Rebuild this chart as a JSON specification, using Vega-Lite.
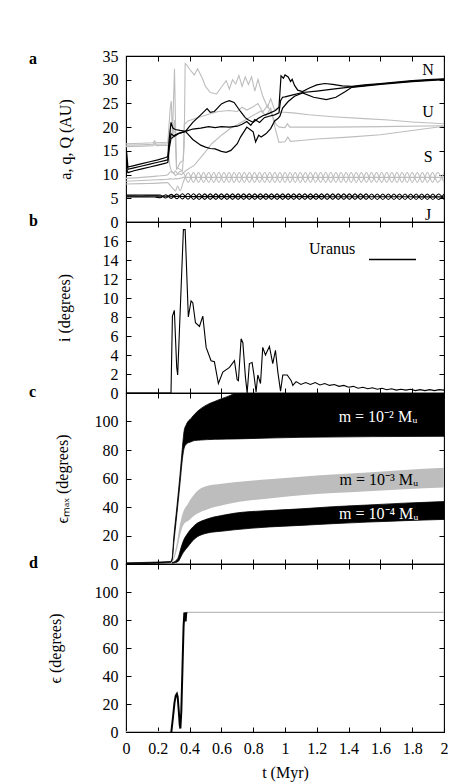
{
"$schema": "https://vega.github.io/schema/vega-lite/v6.json",
"autosize": {"type": "pad"},
"padding": {"left": 28, "top": 47, "right": 2, "bottom": 2},
"config": {
  "font": "Liberation Serif, serif",
  "view": {"stroke": "black", "strokeWidth": 1.1},
  "style": {"guide-label": {"font": "Liberation Serif, serif", "fontSize": 16, "fill": "black"}, "guide-title": {"font": "Liberation Serif, serif", "fontSize": 16, "fontWeight": "normal", "fill": "black"}},
  "axis": {"grid": false, "domain": false, "tickColor": "black", "tickSize": -5, "tickWidth": 1, "labelFontSize": 16, "labelColor": "black", "labelFont": "Liberation Serif, serif", "titleFont": "Liberation Serif, serif", "titleFontSize": 16, "titleFontWeight": "normal", "titleColor": "black", "labelPadding": 13, "labelFlush": false, "labelOverlap": false, "labelBound": false, "titlePadding": 30},
  "title": {"font": "Liberation Serif, serif", "fontSize": 16, "fontWeight": "bold", "color": "black", "anchor": "start", "frame": "group", "orient": "top", "baseline": "alphabetic", "dx": -97, "offset": -11}
},
"datasets": {
  "UN": [
    {"pl":"N","k":"Q","t":0,"v":10.4},{"pl":"N","k":"Q","t":0.004,"v":14.8},{"pl":"N","k":"Q","t":0.012,"v":11.6},{"pl":"N","k":"Q","t":0.05,"v":11.9},{"pl":"N","k":"Q","t":0.1,"v":12.3},{"pl":"N","k":"Q","t":0.15,"v":12.7},{"pl":"N","k":"Q","t":0.2,"v":13.1},{"pl":"N","k":"Q","t":0.25,"v":13.6},{"pl":"N","k":"Q","t":0.263,"v":13.8},{"pl":"N","k":"Q","t":0.272,"v":17.5},{"pl":"N","k":"Q","t":0.283,"v":21.0},{"pl":"N","k":"Q","t":0.295,"v":19.8},{"pl":"N","k":"Q","t":0.31,"v":19.5},{"pl":"N","k":"Q","t":0.34,"v":19.3},{"pl":"N","k":"Q","t":0.374,"v":19.1},{"pl":"N","k":"Q","t":0.42,"v":21.0},{"pl":"N","k":"Q","t":0.47,"v":22.6},{"pl":"N","k":"Q","t":0.51,"v":23.9},{"pl":"N","k":"Q","t":0.53,"v":23.1},{"pl":"N","k":"Q","t":0.556,"v":23.3},{"pl":"N","k":"Q","t":0.6,"v":24.9},{"pl":"N","k":"Q","t":0.625,"v":25.3},{"pl":"N","k":"Q","t":0.65,"v":25.6},{"pl":"N","k":"Q","t":0.68,"v":25.2},{"pl":"N","k":"Q","t":0.72,"v":23.3},{"pl":"N","k":"Q","t":0.75,"v":22.0},{"pl":"N","k":"Q","t":0.77,"v":21.5},{"pl":"N","k":"Q","t":0.8,"v":21.0},{"pl":"N","k":"Q","t":0.83,"v":21.8},{"pl":"N","k":"Q","t":0.86,"v":22.4},{"pl":"N","k":"Q","t":0.9,"v":22.9},{"pl":"N","k":"Q","t":0.94,"v":23.5},{"pl":"N","k":"Q","t":0.962,"v":24.2},{"pl":"N","k":"Q","t":0.975,"v":30.8},{"pl":"N","k":"Q","t":0.99,"v":30.3},{"pl":"N","k":"Q","t":1.0,"v":31.0},{"pl":"N","k":"Q","t":1.02,"v":30.6},{"pl":"N","k":"Q","t":1.035,"v":29.6},{"pl":"N","k":"Q","t":1.045,"v":30.1},{"pl":"N","k":"Q","t":1.06,"v":28.8},{"pl":"N","k":"Q","t":1.08,"v":27.8},{"pl":"N","k":"Q","t":1.11,"v":27.5},{"pl":"N","k":"Q","t":1.15,"v":28.2},{"pl":"N","k":"Q","t":1.2,"v":28.9},{"pl":"N","k":"Q","t":1.25,"v":29.2},{"pl":"N","k":"Q","t":1.3,"v":29.0},{"pl":"N","k":"Q","t":1.36,"v":28.7},{"pl":"N","k":"Q","t":1.42,"v":28.6},{"pl":"N","k":"Q","t":1.5,"v":28.9},{"pl":"N","k":"Q","t":1.6,"v":29.2},{"pl":"N","k":"Q","t":1.7,"v":29.5},{"pl":"N","k":"Q","t":1.8,"v":29.8},{"pl":"N","k":"Q","t":1.9,"v":30.0},{"pl":"N","k":"Q","t":2.0,"v":30.2},
    {"pl":"N","k":"a","t":0,"v":10.0},{"pl":"N","k":"a","t":0.004,"v":13.2},{"pl":"N","k":"a","t":0.012,"v":11.1},{"pl":"N","k":"a","t":0.05,"v":11.4},{"pl":"N","k":"a","t":0.1,"v":11.8},{"pl":"N","k":"a","t":0.15,"v":12.2},{"pl":"N","k":"a","t":0.2,"v":12.6},{"pl":"N","k":"a","t":0.25,"v":13.0},{"pl":"N","k":"a","t":0.263,"v":13.1},{"pl":"N","k":"a","t":0.272,"v":16.5},{"pl":"N","k":"a","t":0.283,"v":18.6},{"pl":"N","k":"a","t":0.3,"v":18.2},{"pl":"N","k":"a","t":0.33,"v":18.7},{"pl":"N","k":"a","t":0.374,"v":19.1},{"pl":"N","k":"a","t":0.42,"v":19.6},{"pl":"N","k":"a","t":0.47,"v":19.8},{"pl":"N","k":"a","t":0.52,"v":20.1},{"pl":"N","k":"a","t":0.56,"v":19.9},{"pl":"N","k":"a","t":0.6,"v":20.1},{"pl":"N","k":"a","t":0.65,"v":20.0},{"pl":"N","k":"a","t":0.7,"v":20.2},{"pl":"N","k":"a","t":0.73,"v":20.6},{"pl":"N","k":"a","t":0.76,"v":21.2},{"pl":"N","k":"a","t":0.785,"v":20.4},{"pl":"N","k":"a","t":0.81,"v":21.6},{"pl":"N","k":"a","t":0.84,"v":21.0},{"pl":"N","k":"a","t":0.87,"v":22.0},{"pl":"N","k":"a","t":0.9,"v":22.3},{"pl":"N","k":"a","t":0.935,"v":22.6},{"pl":"N","k":"a","t":0.962,"v":23.0},{"pl":"N","k":"a","t":0.972,"v":25.6},{"pl":"N","k":"a","t":0.985,"v":26.3},{"pl":"N","k":"a","t":1.0,"v":26.4},{"pl":"N","k":"a","t":1.05,"v":26.8},{"pl":"N","k":"a","t":1.11,"v":27.3},{"pl":"N","k":"a","t":1.2,"v":27.6},{"pl":"N","k":"a","t":1.3,"v":28.0},{"pl":"N","k":"a","t":1.42,"v":28.5},{"pl":"N","k":"a","t":1.6,"v":29.1},{"pl":"N","k":"a","t":1.8,"v":29.7},{"pl":"N","k":"a","t":2.0,"v":30.1},
    {"pl":"N","k":"q","t":0,"v":9.6},{"pl":"N","k":"q","t":0.004,"v":11.2},{"pl":"N","k":"q","t":0.012,"v":10.4},{"pl":"N","k":"q","t":0.05,"v":10.8},{"pl":"N","k":"q","t":0.1,"v":11.2},{"pl":"N","k":"q","t":0.15,"v":11.6},{"pl":"N","k":"q","t":0.2,"v":12.0},{"pl":"N","k":"q","t":0.25,"v":12.4},{"pl":"N","k":"q","t":0.263,"v":12.6},{"pl":"N","k":"q","t":0.272,"v":15.5},{"pl":"N","k":"q","t":0.283,"v":17.6},{"pl":"N","k":"q","t":0.3,"v":18.0},{"pl":"N","k":"q","t":0.33,"v":18.6},{"pl":"N","k":"q","t":0.374,"v":19.1},{"pl":"N","k":"q","t":0.42,"v":17.4},{"pl":"N","k":"q","t":0.47,"v":16.2},{"pl":"N","k":"q","t":0.5,"v":15.8},{"pl":"N","k":"q","t":0.53,"v":15.5},{"pl":"N","k":"q","t":0.56,"v":15.4},{"pl":"N","k":"q","t":0.6,"v":14.9},{"pl":"N","k":"q","t":0.63,"v":14.7},{"pl":"N","k":"q","t":0.66,"v":15.1},{"pl":"N","k":"q","t":0.7,"v":16.5},{"pl":"N","k":"q","t":0.72,"v":17.9},{"pl":"N","k":"q","t":0.76,"v":20.0},{"pl":"N","k":"q","t":0.78,"v":19.5},{"pl":"N","k":"q","t":0.8,"v":19.0},{"pl":"N","k":"q","t":0.815,"v":16.9},{"pl":"N","k":"q","t":0.835,"v":18.3},{"pl":"N","k":"q","t":0.85,"v":17.9},{"pl":"N","k":"q","t":0.88,"v":18.6},{"pl":"N","k":"q","t":0.91,"v":19.7},{"pl":"N","k":"q","t":0.935,"v":21.3},{"pl":"N","k":"q","t":0.955,"v":21.8},{"pl":"N","k":"q","t":0.968,"v":22.3},{"pl":"N","k":"q","t":0.985,"v":24.0},{"pl":"N","k":"q","t":1.02,"v":25.4},{"pl":"N","k":"q","t":1.06,"v":26.5},{"pl":"N","k":"q","t":1.11,"v":27.2},{"pl":"N","k":"q","t":1.18,"v":26.3},{"pl":"N","k":"q","t":1.26,"v":25.8},{"pl":"N","k":"q","t":1.32,"v":26.3},{"pl":"N","k":"q","t":1.38,"v":27.5},{"pl":"N","k":"q","t":1.42,"v":28.4},{"pl":"N","k":"q","t":1.6,"v":29.0},{"pl":"N","k":"q","t":1.8,"v":29.6},{"pl":"N","k":"q","t":2.0,"v":30.0},
    {"pl":"U","k":"Q","t":0,"v":16.5},{"pl":"U","k":"Q","t":0.1,"v":16.6},{"pl":"U","k":"Q","t":0.17,"v":16.7},{"pl":"U","k":"Q","t":0.18,"v":17.1},{"pl":"U","k":"Q","t":0.19,"v":16.7},{"pl":"U","k":"Q","t":0.263,"v":16.8},{"pl":"U","k":"Q","t":0.278,"v":24.0},{"pl":"U","k":"Q","t":0.285,"v":25.5},{"pl":"U","k":"Q","t":0.292,"v":18.0},{"pl":"U","k":"Q","t":0.305,"v":32.3},{"pl":"U","k":"Q","t":0.312,"v":20.0},{"pl":"U","k":"Q","t":0.318,"v":11.5},{"pl":"U","k":"Q","t":0.335,"v":11.2},{"pl":"U","k":"Q","t":0.355,"v":10.8},{"pl":"U","k":"Q","t":0.366,"v":16.0},{"pl":"U","k":"Q","t":0.372,"v":33.4},{"pl":"U","k":"Q","t":0.38,"v":33.2},{"pl":"U","k":"Q","t":0.4,"v":32.2},{"pl":"U","k":"Q","t":0.43,"v":31.0},{"pl":"U","k":"Q","t":0.45,"v":32.3},{"pl":"U","k":"Q","t":0.48,"v":30.3},{"pl":"U","k":"Q","t":0.5,"v":28.6},{"pl":"U","k":"Q","t":0.53,"v":27.3},{"pl":"U","k":"Q","t":0.57,"v":27.0},{"pl":"U","k":"Q","t":0.6,"v":28.4},{"pl":"U","k":"Q","t":0.63,"v":29.8},{"pl":"U","k":"Q","t":0.65,"v":28.0},{"pl":"U","k":"Q","t":0.67,"v":30.0},{"pl":"U","k":"Q","t":0.69,"v":29.1},{"pl":"U","k":"Q","t":0.71,"v":30.9},{"pl":"U","k":"Q","t":0.73,"v":28.6},{"pl":"U","k":"Q","t":0.75,"v":30.6},{"pl":"U","k":"Q","t":0.77,"v":29.0},{"pl":"U","k":"Q","t":0.79,"v":30.6},{"pl":"U","k":"Q","t":0.81,"v":27.6},{"pl":"U","k":"Q","t":0.83,"v":30.1},{"pl":"U","k":"Q","t":0.86,"v":26.5},{"pl":"U","k":"Q","t":0.89,"v":24.2},{"pl":"U","k":"Q","t":0.91,"v":26.0},{"pl":"U","k":"Q","t":0.935,"v":23.6},{"pl":"U","k":"Q","t":0.955,"v":24.0},{"pl":"U","k":"Q","t":0.97,"v":23.2},{"pl":"U","k":"Q","t":1.05,"v":23.0},{"pl":"U","k":"Q","t":1.15,"v":22.6},{"pl":"U","k":"Q","t":1.3,"v":22.2},{"pl":"U","k":"Q","t":1.5,"v":21.8},{"pl":"U","k":"Q","t":1.65,"v":21.5},{"pl":"U","k":"Q","t":1.8,"v":21.1},{"pl":"U","k":"Q","t":2.0,"v":20.7},
    {"pl":"U","k":"a","t":0,"v":16.2},{"pl":"U","k":"a","t":0.1,"v":16.3},{"pl":"U","k":"a","t":0.17,"v":16.4},{"pl":"U","k":"a","t":0.18,"v":16.7},{"pl":"U","k":"a","t":0.19,"v":16.4},{"pl":"U","k":"a","t":0.263,"v":16.5},{"pl":"U","k":"a","t":0.278,"v":19.5},{"pl":"U","k":"a","t":0.292,"v":17.5},{"pl":"U","k":"a","t":0.305,"v":21.5},{"pl":"U","k":"a","t":0.318,"v":11.0},{"pl":"U","k":"a","t":0.34,"v":12.5},{"pl":"U","k":"a","t":0.36,"v":13.0},{"pl":"U","k":"a","t":0.366,"v":20.5},{"pl":"U","k":"a","t":0.39,"v":21.3},{"pl":"U","k":"a","t":0.45,"v":22.0},{"pl":"U","k":"a","t":0.52,"v":22.7},{"pl":"U","k":"a","t":0.58,"v":23.3},{"pl":"U","k":"a","t":0.65,"v":23.5},{"pl":"U","k":"a","t":0.7,"v":23.3},{"pl":"U","k":"a","t":0.73,"v":24.2},{"pl":"U","k":"a","t":0.76,"v":23.6},{"pl":"U","k":"a","t":0.8,"v":24.3},{"pl":"U","k":"a","t":0.83,"v":25.0},{"pl":"U","k":"a","t":0.86,"v":23.2},{"pl":"U","k":"a","t":0.89,"v":24.6},{"pl":"U","k":"a","t":0.92,"v":22.5},{"pl":"U","k":"a","t":0.945,"v":20.5},{"pl":"U","k":"a","t":0.965,"v":20.0},{"pl":"U","k":"a","t":1.0,"v":19.9},{"pl":"U","k":"a","t":1.015,"v":20.7},{"pl":"U","k":"a","t":1.03,"v":20.0},{"pl":"U","k":"a","t":1.3,"v":20.0},{"pl":"U","k":"a","t":1.6,"v":20.1},{"pl":"U","k":"a","t":2.0,"v":20.3},
    {"pl":"U","k":"q","t":0,"v":15.9},{"pl":"U","k":"q","t":0.1,"v":16.0},{"pl":"U","k":"q","t":0.17,"v":16.1},{"pl":"U","k":"q","t":0.18,"v":16.4},{"pl":"U","k":"q","t":0.19,"v":16.1},{"pl":"U","k":"q","t":0.263,"v":16.2},{"pl":"U","k":"q","t":0.275,"v":12.0},{"pl":"U","k":"q","t":0.285,"v":10.8},{"pl":"U","k":"q","t":0.3,"v":10.3},{"pl":"U","k":"q","t":0.31,"v":9.8},{"pl":"U","k":"q","t":0.33,"v":10.2},{"pl":"U","k":"q","t":0.35,"v":10.0},{"pl":"U","k":"q","t":0.366,"v":10.5},{"pl":"U","k":"q","t":0.38,"v":10.9},{"pl":"U","k":"q","t":0.43,"v":12.0},{"pl":"U","k":"q","t":0.48,"v":14.0},{"pl":"U","k":"q","t":0.54,"v":16.5},{"pl":"U","k":"q","t":0.6,"v":18.3},{"pl":"U","k":"q","t":0.66,"v":19.8},{"pl":"U","k":"q","t":0.7,"v":20.5},{"pl":"U","k":"q","t":0.75,"v":21.5},{"pl":"U","k":"q","t":0.8,"v":22.5},{"pl":"U","k":"q","t":0.85,"v":23.4},{"pl":"U","k":"q","t":0.88,"v":22.4},{"pl":"U","k":"q","t":0.91,"v":24.0},{"pl":"U","k":"q","t":0.94,"v":19.5},{"pl":"U","k":"q","t":0.962,"v":16.8},{"pl":"U","k":"q","t":1.0,"v":16.9},{"pl":"U","k":"q","t":1.018,"v":17.9},{"pl":"U","k":"q","t":1.035,"v":17.0},{"pl":"U","k":"q","t":1.1,"v":17.2},{"pl":"U","k":"q","t":1.2,"v":17.5},{"pl":"U","k":"q","t":1.4,"v":17.9},{"pl":"U","k":"q","t":1.6,"v":18.4},{"pl":"U","k":"q","t":1.8,"v":19.3},{"pl":"U","k":"q","t":2.0,"v":20.2}
  ],
  "J": [
    {"t":0,"hi":5.7,"lo":5.3,"a":5.5},{"t":0.1,"hi":5.68,"lo":5.3,"a":5.49},{"t":0.18,"hi":5.66,"lo":5.28,"a":5.47},
    {"t":0.215,"hi":5.68,"lo":5.12,"a":5.45},{"t":0.25,"hi":5.05,"lo":5.75,"a":5.44},{"t":0.285,"hi":5.82,"lo":4.98,"a":5.42},{"t":0.32,"hi":4.9,"lo":5.9,"a":5.4},{"t":0.355,"hi":5.95,"lo":4.85,"a":5.39},{"t":0.39,"hi":4.8,"lo":6.0,"a":5.38},{"t":0.425,"hi":5.95,"lo":4.75,"a":5.36},{"t":0.46,"hi":4.75,"lo":5.95,"a":5.35},
    {"t":0.495,"hi":5.93,"lo":4.77,"a":5.35},{"t":0.53,"hi":4.77,"lo":5.93,"a":5.35},{"t":0.565,"hi":5.93,"lo":4.77,"a":5.35},{"t":0.6,"hi":4.77,"lo":5.93,"a":5.35},{"t":0.635,"hi":5.93,"lo":4.77,"a":5.35},{"t":0.67,"hi":4.77,"lo":5.93,"a":5.35},{"t":0.705,"hi":5.93,"lo":4.77,"a":5.35},{"t":0.74,"hi":4.77,"lo":5.93,"a":5.35},{"t":0.775,"hi":5.93,"lo":4.77,"a":5.35},{"t":0.81,"hi":4.77,"lo":5.93,"a":5.35},{"t":0.845,"hi":5.93,"lo":4.77,"a":5.35},{"t":0.88,"hi":4.77,"lo":5.93,"a":5.35},{"t":0.915,"hi":5.93,"lo":4.77,"a":5.35},{"t":0.95,"hi":4.77,"lo":5.93,"a":5.35},{"t":0.985,"hi":5.93,"lo":4.77,"a":5.35},{"t":1.02,"hi":4.77,"lo":5.93,"a":5.35},{"t":1.055,"hi":5.93,"lo":4.77,"a":5.34},{"t":1.09,"hi":4.77,"lo":5.93,"a":5.34},{"t":1.125,"hi":5.93,"lo":4.77,"a":5.34},{"t":1.16,"hi":4.77,"lo":5.93,"a":5.34},{"t":1.195,"hi":5.92,"lo":4.76,"a":5.34},{"t":1.23,"hi":4.76,"lo":5.92,"a":5.34},{"t":1.265,"hi":5.92,"lo":4.76,"a":5.33},{"t":1.3,"hi":4.76,"lo":5.92,"a":5.33},{"t":1.335,"hi":5.92,"lo":4.76,"a":5.33},{"t":1.37,"hi":4.76,"lo":5.92,"a":5.33},{"t":1.405,"hi":5.92,"lo":4.76,"a":5.33},{"t":1.44,"hi":4.76,"lo":5.92,"a":5.33},{"t":1.475,"hi":5.92,"lo":4.76,"a":5.32},{"t":1.51,"hi":4.76,"lo":5.92,"a":5.32},{"t":1.545,"hi":5.91,"lo":4.75,"a":5.32},{"t":1.58,"hi":4.75,"lo":5.91,"a":5.32},{"t":1.615,"hi":5.91,"lo":4.75,"a":5.32},{"t":1.65,"hi":4.75,"lo":5.91,"a":5.31},{"t":1.685,"hi":5.91,"lo":4.75,"a":5.31},{"t":1.72,"hi":4.75,"lo":5.91,"a":5.31},{"t":1.755,"hi":5.9,"lo":4.74,"a":5.31},{"t":1.79,"hi":4.74,"lo":5.9,"a":5.31},{"t":1.825,"hi":5.9,"lo":4.74,"a":5.3},{"t":1.86,"hi":4.74,"lo":5.9,"a":5.3},{"t":1.895,"hi":5.9,"lo":4.74,"a":5.3},{"t":1.93,"hi":4.74,"lo":5.9,"a":5.3},{"t":1.965,"hi":5.9,"lo":4.74,"a":5.3},{"t":2.0,"hi":4.74,"lo":5.9,"a":5.3}
  ],
  "S": [
    {"t":0,"hi":9.2,"lo":8.0,"a":8.6},{"t":0.1,"hi":9.4,"lo":8.1,"a":8.75},{"t":0.2,"hi":9.7,"lo":8.2,"a":8.9},{"t":0.26,"hi":9.9,"lo":8.3,"a":9.0},{"t":0.28,"hi":10.6,"lo":7.6,"a":9.1},{"t":0.3,"hi":10.3,"lo":6.9,"a":9.0},{"t":0.31,"hi":10.8,"lo":6.5,"a":9.2},{"t":0.325,"hi":10.2,"lo":7.6,"a":9.1},{"t":0.34,"hi":10.7,"lo":6.6,"a":9.2},
    {"t":0.36,"hi":10.4,"lo":8.4,"a":9.4},{"t":0.392,"hi":8.35,"lo":10.45,"a":9.4},{"t":0.424,"hi":10.45,"lo":8.35,"a":9.4},{"t":0.456,"hi":8.35,"lo":10.45,"a":9.4},{"t":0.488,"hi":10.45,"lo":8.35,"a":9.4},{"t":0.52,"hi":8.35,"lo":10.45,"a":9.4},{"t":0.552,"hi":10.45,"lo":8.35,"a":9.4},{"t":0.584,"hi":8.35,"lo":10.45,"a":9.4},{"t":0.616,"hi":10.45,"lo":8.35,"a":9.4},{"t":0.648,"hi":8.35,"lo":10.45,"a":9.4},{"t":0.68,"hi":10.45,"lo":8.35,"a":9.4},{"t":0.712,"hi":8.35,"lo":10.45,"a":9.4},{"t":0.744,"hi":10.45,"lo":8.35,"a":9.4},{"t":0.776,"hi":8.35,"lo":10.45,"a":9.4},{"t":0.808,"hi":10.45,"lo":8.35,"a":9.4},{"t":0.84,"hi":8.35,"lo":10.45,"a":9.4},{"t":0.872,"hi":10.45,"lo":8.35,"a":9.4},{"t":0.904,"hi":8.35,"lo":10.45,"a":9.4},{"t":0.936,"hi":10.45,"lo":8.35,"a":9.4},{"t":0.968,"hi":8.35,"lo":10.45,"a":9.4},{"t":1.0,"hi":10.45,"lo":8.35,"a":9.4},{"t":1.032,"hi":8.35,"lo":10.45,"a":9.4},{"t":1.064,"hi":10.45,"lo":8.35,"a":9.4},{"t":1.096,"hi":8.35,"lo":10.45,"a":9.4},{"t":1.128,"hi":10.45,"lo":8.35,"a":9.4},{"t":1.16,"hi":8.35,"lo":10.45,"a":9.4},{"t":1.192,"hi":10.45,"lo":8.35,"a":9.4},{"t":1.224,"hi":8.35,"lo":10.45,"a":9.4},{"t":1.256,"hi":10.45,"lo":8.35,"a":9.4},{"t":1.288,"hi":8.35,"lo":10.45,"a":9.4},{"t":1.32,"hi":10.45,"lo":8.35,"a":9.4},{"t":1.352,"hi":8.35,"lo":10.45,"a":9.4},{"t":1.384,"hi":10.45,"lo":8.35,"a":9.4},{"t":1.416,"hi":8.35,"lo":10.45,"a":9.4},{"t":1.448,"hi":10.45,"lo":8.35,"a":9.4},{"t":1.48,"hi":8.35,"lo":10.45,"a":9.4},{"t":1.512,"hi":10.45,"lo":8.35,"a":9.4},{"t":1.544,"hi":8.35,"lo":10.45,"a":9.4},{"t":1.576,"hi":10.45,"lo":8.35,"a":9.4},{"t":1.608,"hi":8.35,"lo":10.45,"a":9.4},{"t":1.64,"hi":10.45,"lo":8.35,"a":9.4},{"t":1.672,"hi":8.35,"lo":10.45,"a":9.4},{"t":1.704,"hi":10.45,"lo":8.35,"a":9.4},{"t":1.736,"hi":8.35,"lo":10.45,"a":9.4},{"t":1.768,"hi":10.45,"lo":8.35,"a":9.4},{"t":1.8,"hi":8.35,"lo":10.45,"a":9.4},{"t":1.832,"hi":10.45,"lo":8.35,"a":9.4},{"t":1.864,"hi":8.35,"lo":10.45,"a":9.4},{"t":1.896,"hi":10.45,"lo":8.35,"a":9.4},{"t":1.928,"hi":8.35,"lo":10.45,"a":9.4},{"t":1.96,"hi":10.45,"lo":8.35,"a":9.4},{"t":2.0,"hi":8.4,"lo":10.4,"a":9.4}
  ],
  "labA": [{"t":1.9,"v":32.0,"txt":"N"},{"t":1.9,"v":23.1,"txt":"U"},{"t":1.9,"v":13.6,"txt":"S"},{"t":1.9,"v":1.5,"txt":"J"}],
  "inc": [
    {"t":0,"i":0},{"t":0.283,"i":0},{"t":0.292,"i":8.1},{"t":0.304,"i":8.7},{"t":0.319,"i":2.7},{"t":0.325,"i":1.9},{"t":0.361,"i":17.2},{"t":0.372,"i":17.2},{"t":0.392,"i":8.0},{"t":0.409,"i":9.7},{"t":0.42,"i":9.5},{"t":0.437,"i":7.4},{"t":0.462,"i":7.0},{"t":0.483,"i":8.1},{"t":0.504,"i":4.8},{"t":0.535,"i":3.4},{"t":0.556,"i":3.3},{"t":0.581,"i":1.0},{"t":0.609,"i":2.2},{"t":0.651,"i":2.7},{"t":0.682,"i":3.4},{"t":0.699,"i":1.4},{"t":0.707,"i":1.3},{"t":0.724,"i":5.7},{"t":0.735,"i":5.3},{"t":0.751,"i":1.7},{"t":0.762,"i":0},{"t":0.776,"i":3.1},{"t":0.793,"i":3.2},{"t":0.804,"i":2.0},{"t":0.818,"i":0.1},{"t":0.829,"i":1.9},{"t":0.846,"i":1.0},{"t":0.86,"i":4.8},{"t":0.877,"i":4.0},{"t":0.902,"i":4.9},{"t":0.923,"i":3.1},{"t":0.94,"i":4.5},{"t":0.955,"i":2.2},{"t":0.972,"i":0.2},{"t":0.986,"i":1.9},{"t":1.014,"i":1.9},{"t":1.039,"i":1.3},{"t":1.049,"i":0.8},{"t":1.07,"i":1.2},
    {"t":1.1,"i":0.9},{"t":1.13,"i":1.1},{"t":1.16,"i":0.9},{"t":1.19,"i":1.1},{"t":1.22,"i":0.85},{"t":1.25,"i":1.0},{"t":1.28,"i":0.8},{"t":1.31,"i":0.9},{"t":1.34,"i":0.7},{"t":1.37,"i":0.8},{"t":1.4,"i":0.6},{"t":1.43,"i":0.7},{"t":1.46,"i":0.5},{"t":1.49,"i":0.6},{"t":1.52,"i":0.45},{"t":1.55,"i":0.55},{"t":1.58,"i":0.4},{"t":1.61,"i":0.5},{"t":1.64,"i":0.35},{"t":1.67,"i":0.45},{"t":1.7,"i":0.3},{"t":1.73,"i":0.4},{"t":1.76,"i":0.3},{"t":1.79,"i":0.4},{"t":1.82,"i":0.25},{"t":1.85,"i":0.35},{"t":1.88,"i":0.25},{"t":1.91,"i":0.35},{"t":1.94,"i":0.25},{"t":1.97,"i":0.35},{"t":2.0,"i":0.3}
  ],
  "emax": [
    {"m":"e2","t":0,"lo":0,"hi":0.8},{"m":"e2","t":0.15,"lo":0.4,"hi":1.2},{"m":"e2","t":0.28,"lo":1.0,"hi":1.8},{"m":"e2","t":0.29,"lo":2.5,"hi":4},{"m":"e2","t":0.3,"lo":14,"hi":18},{"m":"e2","t":0.32,"lo":35,"hi":40},{"m":"e2","t":0.34,"lo":57,"hi":63},{"m":"e2","t":0.355,"lo":74,"hi":82},{"m":"e2","t":0.365,"lo":81,"hi":93},{"m":"e2","t":0.38,"lo":84.2,"hi":98},{"m":"e2","t":0.41,"lo":85.8,"hi":102.3},{"m":"e2","t":0.43,"lo":86.6,"hi":105},{"m":"e2","t":0.47,"lo":87.0,"hi":109},{"m":"e2","t":0.514,"lo":87.3,"hi":112},{"m":"e2","t":0.556,"lo":87.5,"hi":114},{"m":"e2","t":0.6,"lo":87.6,"hi":116},{"m":"e2","t":0.66,"lo":87.7,"hi":118.5},{"m":"e2","t":0.7,"lo":87.8,"hi":121},{"m":"e2","t":1.1,"lo":88.9,"hi":125},{"m":"e2","t":2.0,"lo":89.6,"hi":125},
    {"m":"e3","t":0.29,"lo":1,"hi":1.5},{"m":"e3","t":0.3,"lo":3,"hi":5},{"m":"e3","t":0.32,"lo":10,"hi":15},{"m":"e3","t":0.34,"lo":20,"hi":28},{"m":"e3","t":0.355,"lo":26,"hi":35},{"m":"e3","t":0.367,"lo":28.5,"hi":38.5},{"m":"e3","t":0.388,"lo":30,"hi":42},{"m":"e3","t":0.4,"lo":31,"hi":44.4},{"m":"e3","t":0.43,"lo":34,"hi":49},{"m":"e3","t":0.45,"lo":35.5,"hi":51.4},{"m":"e3","t":0.514,"lo":38.5,"hi":54.9},{"m":"e3","t":0.6,"lo":41,"hi":56.4},{"m":"e3","t":0.68,"lo":43,"hi":57.4},{"m":"e3","t":0.9,"lo":46,"hi":59.5},{"m":"e3","t":1.1,"lo":48.2,"hi":61.3},{"m":"e3","t":1.3,"lo":49.8,"hi":62.8},{"m":"e3","t":1.52,"lo":51.1,"hi":64.2},{"m":"e3","t":1.75,"lo":52.5,"hi":66},{"m":"e3","t":2.0,"lo":53.7,"hi":67.6},
    {"m":"e4","t":0.29,"lo":0.5,"hi":1},{"m":"e4","t":0.31,"lo":1,"hi":2},{"m":"e4","t":0.33,"lo":2,"hi":5},{"m":"e4","t":0.345,"lo":5,"hi":11},{"m":"e4","t":0.36,"lo":8,"hi":16},{"m":"e4","t":0.388,"lo":12,"hi":21.5},{"m":"e4","t":0.43,"lo":17.5,"hi":27},{"m":"e4","t":0.514,"lo":21.8,"hi":31.7},{"m":"e4","t":0.6,"lo":23,"hi":34},{"m":"e4","t":0.68,"lo":24,"hi":35.6},{"m":"e4","t":0.9,"lo":26,"hi":37.5},{"m":"e4","t":1.1,"lo":27.1,"hi":38.7},{"m":"e4","t":1.3,"lo":28.3,"hi":40.2},{"m":"e4","t":1.52,"lo":29.4,"hi":41.4},{"m":"e4","t":1.75,"lo":30.4,"hi":42.7},{"m":"e4","t":2.0,"lo":31.3,"hi":43.8}
  ],
  "labC": [{"m":"e2","t":1.585,"v":103.5,"txt":"m = 10⁻² Mᵤ"},{"m":"e3","t":1.59,"v":58.8,"txt":"m = 10⁻³ Mᵤ"},{"m":"e4","t":1.59,"v":35.2,"txt":"m = 10⁻⁴ Mᵤ"}],
  "eps": [
    {"s":"pre","t":0,"e":0.4},{"s":"pre","t":0.285,"e":0.4},
    {"s":"rise","t":0.285,"e":0},{"s":"rise","t":0.295,"e":10},{"s":"rise","t":0.305,"e":21},{"s":"rise","t":0.313,"e":26},{"s":"rise","t":0.32,"e":27.3},{"s":"rise","t":0.325,"e":25},{"s":"rise","t":0.332,"e":15},{"s":"rise","t":0.338,"e":5},{"s":"rise","t":0.342,"e":2.5},{"s":"rise","t":0.348,"e":15},{"s":"rise","t":0.355,"e":45},{"s":"rise","t":0.362,"e":75},{"s":"rise","t":0.367,"e":85.3},{"s":"rise","t":0.371,"e":84},{"s":"rise","t":0.375,"e":79},{"s":"rise","t":0.378,"e":84},{"s":"rise","t":0.381,"e":85.5},
    {"s":"final","t":0.381,"e":85.5},{"s":"final","t":2.0,"e":85.5}
  ]
},
"vconcat": [
  {
    "width": 318, "height": 166,
    "title": {"text": "a", "offset": -19},
    "layer": [
      {"data": {"name": "UN"}, "transform": [{"filter": "datum.pl == 'U'"}],
       "mark": {"type": "line", "color": "#bdbdbd", "strokeWidth": 1.1, "clip": true},
       "encoding": {
         "x": {"field": "t", "type": "quantitative", "scale": {"domain": [0, 2], "nice": false}, "axis": {"orient": "bottom", "labels": false, "title": null, "tickSize": -5, "tickColor": "black", "values": [0,0.2,0.4,0.6,0.8,1,1.2,1.4,1.6,1.8,2]}},
         "y": {"field": "v", "type": "quantitative", "scale": {"domain": [0, 35], "nice": false}, "axis": {"orient": "left", "title": "a, q, Q (AU)", "labelOverlap": false, "labelFont": "Liberation Serif, serif", "labelFontSize": 16, "labelColor": "black", "labelPadding": 13, "tickSize": -5, "tickColor": "black", "titleFont": "Liberation Serif, serif", "titleFontSize": 16, "titleFontWeight": "normal", "titleColor": "black", "titlePadding": 29, "values": [0,5,10,15,20,25,30,35]}},
         "detail": {"field": "k"}, "order": {"field": "t"}}},
      {"data": {"name": "S"}, "transform": [{"fold": ["hi", "lo", "a"], "as": ["k", "v"]}],
       "mark": {"type": "line", "color": "#bdbdbd", "strokeWidth": 1.1, "interpolate": "monotone", "clip": true},
       "encoding": {"x": {"field": "t", "type": "quantitative", "axis": null}, "y": {"field": "v", "type": "quantitative", "axis": null}, "detail": {"field": "k"}, "order": {"field": "t"}}},
      {"data": {"name": "UN"}, "transform": [{"filter": "datum.pl == 'N'"}],
       "mark": {"type": "line", "color": "black", "strokeWidth": 1.2, "clip": true},
       "encoding": {"x": {"field": "t", "type": "quantitative", "axis": null}, "y": {"field": "v", "type": "quantitative", "axis": null}, "detail": {"field": "k"}, "order": {"field": "t"}}},
      {"data": {"name": "J"}, "transform": [{"fold": ["hi", "lo", "a"], "as": ["k", "v"]}],
       "mark": {"type": "line", "color": "black", "strokeWidth": 1.1, "interpolate": "monotone", "clip": true},
       "encoding": {"x": {"field": "t", "type": "quantitative", "axis": null}, "y": {"field": "v", "type": "quantitative", "axis": null}, "detail": {"field": "k"}, "order": {"field": "t"}}},
      {"data": {"name": "labA"},
       "mark": {"type": "text", "font": "Liberation Serif, serif", "fontSize": 16, "color": "black", "align": "center", "baseline": "middle"},
       "encoding": {"x": {"field": "t", "type": "quantitative", "axis": null}, "y": {"field": "v", "type": "quantitative", "axis": null}, "text": {"field": "txt"}}},
      {"data": {"name": "J"}, "mark": {"type": "point", "opacity": 0},
       "encoding": {
         "x": {"field": "t", "type": "quantitative", "axis": {"orient": "top", "labels": false, "title": null, "tickSize": -5, "tickColor": "black", "values": [0,0.2,0.4,0.6,0.8,1,1.2,1.4,1.6,1.8,2]}},
         "y": {"field": "a", "type": "quantitative", "axis": {"orient": "right", "labels": false, "title": null, "tickSize": -5, "tickColor": "black", "values": [0,5,10,15,20,25,30,35]}}}}
    ],
    "resolve": {"axis": {"x": "independent", "y": "independent"}}
  },
  {
    "width": 318, "height": 171,
    "title": {"text": "b", "offset": -11, "dy": -4},
    "layer": [
      {"data": {"name": "inc"},
       "mark": {"type": "line", "strokeWidth": 1.1, "clip": true},
       "encoding": {
         "x": {"field": "t", "type": "quantitative", "scale": {"domain": [0, 2], "nice": false}, "axis": {"orient": "bottom", "labels": false, "title": null, "tickSize": -5, "tickColor": "black", "values": [0,0.2,0.4,0.6,0.8,1,1.2,1.4,1.6,1.8,2]}},
         "y": {"field": "i", "type": "quantitative", "scale": {"domain": [0, 18], "nice": false}, "axis": {"orient": "left", "title": "i (degrees)", "labelOverlap": false, "labelFont": "Liberation Serif, serif", "labelFontSize": 16, "labelColor": "black", "labelPadding": 13, "tickSize": -5, "tickColor": "black", "titleFont": "Liberation Serif, serif", "titleFontSize": 16, "titleFontWeight": "normal", "titleColor": "black", "titlePadding": 30, "values": [0,2,4,6,8,10,12,14,16]}},
         "color": {"datum": "Uranus", "type": "nominal", "scale": {"range": ["black"]},
           "legend": {"orient": "none", "legendX": 183, "legendY": 13, "title": "Uranus", "titleOrient": "left", "titleAngle": 0, "titleFont": "Liberation Serif, serif", "titleFontSize": 16, "titleFontWeight": "normal", "titleColor": "black", "titleBaseline": "middle", "titlePadding": 12, "symbolType": "stroke", "symbolSize": 2209, "symbolStrokeWidth": 1.3, "symbolStrokeColor": "black", "labelExpr": "''", "labelFontSize": 1}}}},
      {"data": {"name": "inc"}, "mark": {"type": "point", "opacity": 0},
       "encoding": {
         "x": {"field": "t", "type": "quantitative", "axis": {"orient": "top", "labels": false, "title": null, "tickSize": -5, "tickColor": "black", "values": [0,0.2,0.4,0.6,0.8,1,1.2,1.4,1.6,1.8,2]}},
         "y": {"field": "i", "type": "quantitative", "axis": {"orient": "right", "labels": false, "title": null, "tickSize": -5, "tickColor": "black", "values": [0,2,4,6,8,10,12,14,16]}}}}
    ],
    "resolve": {"axis": {"x": "independent", "y": "independent"}}
  },
  {
    "width": 318, "height": 171,
    "title": {"text": "c", "offset": -7},
    "layer": [
      {"data": {"name": "emax"}, "transform": [{"filter": "datum.m == 'e3'"}],
       "mark": {"type": "area", "color": "#bdbdbd", "interpolate": "monotone", "clip": true},
       "encoding": {
         "x": {"field": "t", "type": "quantitative", "scale": {"domain": [0, 2], "nice": false}, "axis": {"orient": "bottom", "labels": false, "title": null, "tickSize": -5, "tickColor": "black", "values": [0,0.2,0.4,0.6,0.8,1,1.2,1.4,1.6,1.8,2]}},
         "y": {"field": "lo", "type": "quantitative", "scale": {"domain": [0, 120], "nice": false}, "axis": {"orient": "left", "title": "ϵₘₐₓ (degrees)", "labelOverlap": false, "labelFont": "Liberation Serif, serif", "labelFontSize": 16, "labelColor": "black", "labelPadding": 13, "tickSize": -5, "tickColor": "black", "titleFont": "Liberation Serif, serif", "titleFontSize": 16, "titleFontWeight": "normal", "titleColor": "black", "titlePadding": 24, "values": [0,20,40,60,80,100]}},
         "y2": {"field": "hi"}}},
      {"data": {"name": "emax"}, "transform": [{"filter": "datum.m == 'e4'"}],
       "mark": {"type": "area", "color": "black", "stroke": "black", "strokeWidth": 0.8, "interpolate": "monotone", "clip": true},
       "encoding": {"x": {"field": "t", "type": "quantitative", "axis": null}, "y": {"field": "lo", "type": "quantitative", "axis": null}, "y2": {"field": "hi"}}},
      {"data": {"name": "emax"}, "transform": [{"filter": "datum.m == 'e2'"}],
       "mark": {"type": "area", "color": "black", "stroke": "black", "strokeWidth": 0.8, "interpolate": "monotone", "clip": true},
       "encoding": {"x": {"field": "t", "type": "quantitative", "axis": null}, "y": {"field": "lo", "type": "quantitative", "axis": null}, "y2": {"field": "hi"}}},
      {"data": {"name": "labC"}, "transform": [{"filter": "datum.m != 'e3'"}],
       "mark": {"type": "text", "font": "Liberation Serif, serif", "fontSize": 16, "color": "white", "align": "center", "baseline": "middle"},
       "encoding": {"x": {"field": "t", "type": "quantitative", "axis": null}, "y": {"field": "v", "type": "quantitative", "axis": null}, "text": {"field": "txt"}}},
      {"data": {"name": "labC"}, "transform": [{"filter": "datum.m == 'e3'"}],
       "mark": {"type": "text", "font": "Liberation Serif, serif", "fontSize": 16, "color": "black", "align": "center", "baseline": "middle"},
       "encoding": {"x": {"field": "t", "type": "quantitative", "axis": null}, "y": {"field": "v", "type": "quantitative", "axis": null}, "text": {"field": "txt"}}},
      {"data": {"name": "emax"}, "mark": {"type": "point", "opacity": 0},
       "encoding": {
         "x": {"field": "t", "type": "quantitative", "axis": {"orient": "top", "labels": false, "title": null, "tickSize": -5, "tickColor": "black", "values": [0,0.2,0.4,0.6,0.8,1,1.2,1.4,1.6,1.8,2]}},
         "y": {"field": "lo", "type": "quantitative", "axis": {"orient": "right", "labels": false, "title": null, "tickSize": -5, "tickColor": "black", "values": [0,20,40,60,80,100]}}}}
    ],
    "resolve": {"axis": {"x": "independent", "y": "independent"}}
  },
  {
    "width": 318, "height": 168,
    "title": {"text": "d", "offset": -7},
    "layer": [
      {"data": {"name": "eps"}, "transform": [{"filter": "datum.s == 'final'"}],
       "mark": {"type": "line", "color": "#bdbdbd", "strokeWidth": 1.2, "clip": true},
       "encoding": {
         "x": {"field": "t", "type": "quantitative", "scale": {"domain": [0, 2], "nice": false}, "axis": {"orient": "bottom", "title": "t (Myr)", "format": "~g", "labelOverlap": false, "labelFlush": false, "labelFont": "Liberation Serif, serif", "labelFontSize": 16, "labelColor": "black", "labelPadding": 13, "tickSize": -5, "tickColor": "black", "titleFont": "Liberation Serif, serif", "titleFontSize": 16, "titleFontWeight": "normal", "titleColor": "black", "titlePadding": 8, "values": [0,0.2,0.4,0.6,0.8,1,1.2,1.4,1.6,1.8,2]}},
         "y": {"field": "e", "type": "quantitative", "scale": {"domain": [0, 120], "nice": false}, "axis": {"orient": "left", "title": "ϵ (degrees)", "labelOverlap": false, "labelFont": "Liberation Serif, serif", "labelFontSize": 16, "labelColor": "black", "labelPadding": 13, "tickSize": -5, "tickColor": "black", "titleFont": "Liberation Serif, serif", "titleFontSize": 16, "titleFontWeight": "normal", "titleColor": "black", "titlePadding": 31, "values": [0,20,40,60,80,100]}}}},
      {"data": {"name": "eps"}, "transform": [{"filter": "datum.s == 'pre'"}],
       "mark": {"type": "line", "color": "#bdbdbd", "strokeWidth": 1, "clip": true},
       "encoding": {"x": {"field": "t", "type": "quantitative", "axis": null}, "y": {"field": "e", "type": "quantitative", "axis": null}}},
      {"data": {"name": "eps"}, "transform": [{"filter": "datum.s == 'rise'"}],
       "mark": {"type": "line", "color": "black", "strokeWidth": 2, "clip": true},
       "encoding": {"x": {"field": "t", "type": "quantitative", "axis": null}, "y": {"field": "e", "type": "quantitative", "axis": null}}},
      {"data": {"name": "eps"}, "mark": {"type": "point", "opacity": 0},
       "encoding": {
         "x": {"field": "t", "type": "quantitative", "axis": {"orient": "top", "labels": false, "title": null, "tickSize": -5, "tickColor": "black", "values": [0,0.2,0.4,0.6,0.8,1,1.2,1.4,1.6,1.8,2]}},
         "y": {"field": "e", "type": "quantitative", "axis": {"orient": "right", "labels": false, "title": null, "tickSize": -5, "tickColor": "black", "values": [0,20,40,60,80,100]}}}}
    ],
    "resolve": {"axis": {"x": "independent", "y": "independent"}}
  }
],
"spacing": 0,
"bounds": "flush",
"resolve": {"scale": {"color": "independent"}, "legend": {"color": "independent"}}
}
